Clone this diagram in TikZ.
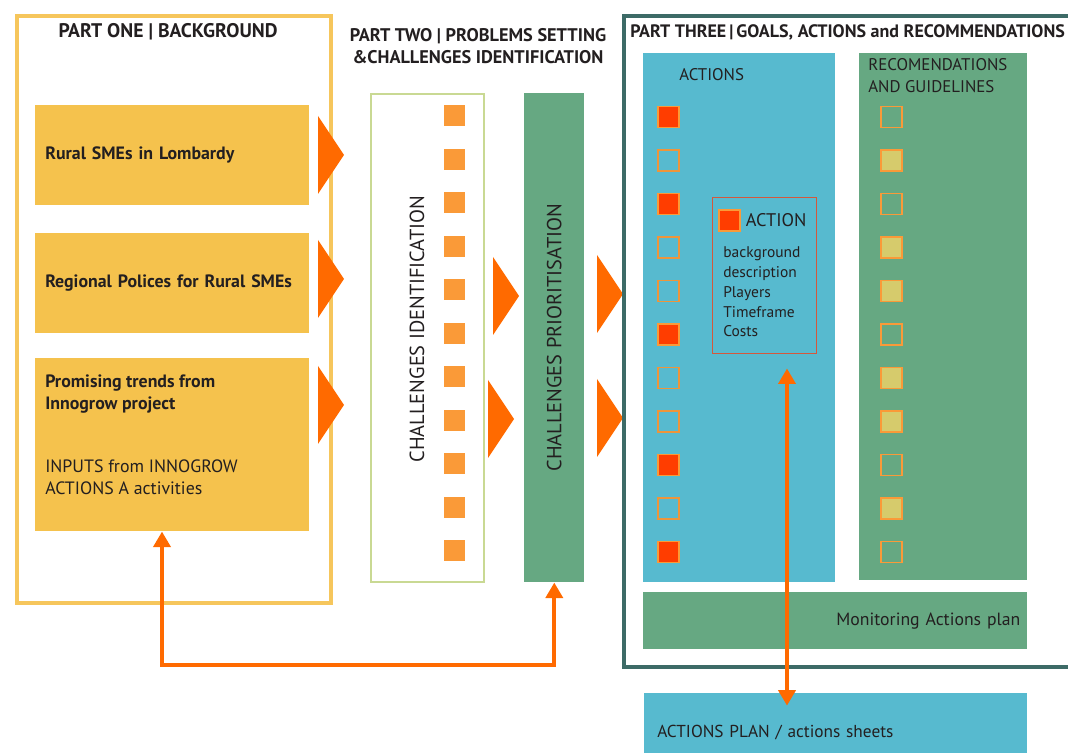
\documentclass[tikz,border=0pt]{standalone}
\usepackage{fontspec}
\setmainfont{PT Sans}
\usetikzlibrary{positioning,arrows.meta,calc}
\definecolor{gold}{HTML}{F5C24D}
\definecolor{goldline}{HTML}{F6C65C}
\definecolor{flame}{HTML}{FF6A00}
\definecolor{tangerine}{HTML}{FA9A38}
\definecolor{sage}{HTML}{66A882}
\definecolor{sky}{HTML}{57BACF}
\definecolor{deepteal}{HTML}{3D6B67}
\definecolor{lime}{HTML}{C9D993}
\definecolor{redsq}{HTML}{FF3D00}
\definecolor{khaki}{HTML}{D6CB6C}
\definecolor{rust}{HTML}{D4583C}
\definecolor{ink}{HTML}{231F20}
\newlength\px
\setlength\px{0.025cm}
\newcommand{\fsz}[1]{\fontsize{#1}{1.2\dimexpr#1pt\relax}\selectfont}

\begin{document}
\begin{tikzpicture}[
  x=0.025cm, y=-0.025cm,
  frame/.style={draw, line width=2.8pt, inner sep=0pt, anchor=north west},
  panel/.style={inner sep=0pt, anchor=north west, text=ink},
  bgbox/.style={panel, fill=gold, minimum width=274\px, align=left,
                text width=254\px, inner xsep=10\px, font=\fsz{12.7}\bfseries},
  head/.style={inner sep=0pt, text=ink, font=\fsz{13}\bfseries},
  lbl/.style={inner sep=0pt, text=ink, font=\fsz{12}},
  sq/.style={minimum size=21\px, inner sep=0pt, line width=1pt},
  chsq/.style={sq, fill=tangerine},
  aon/.style={sq, fill=redsq, draw=tangerine},
  aoff/.style={sq, draw=tangerine!80!brown},
  ron/.style={sq, fill=khaki, draw=tangerine},
  roff/.style={sq, draw=tangerine},
  link/.style={draw=flame, line width=2.8pt,
               {Triangle[length=11pt,width=12pt]}-{Triangle[length=11pt,width=12pt]}},
  bigtip/.pic={\fill[flame] (0,-39) -- (26,0) -- (0,39) -- cycle;},
]
\useasboundingbox (0,0) rectangle (1068,753);

% Part one
\node[frame, draw=goldline, minimum width=314\px, minimum height=587\px] (p1) at (15,14) {};
\node[head, font=\fsz{14}\bfseries] (p1t) at (168,32) {PART ONE | BACKGROUND};
\node[bgbox, minimum height=100\px] (b1) at (35,105) {Rural SMEs in Lombardy};
\node[bgbox, minimum height=100\px] (b2) at (35,233) {Regional Polices for Rural SMEs};
\node[bgbox, minimum height=173\px] (b3) at (35,358) {};
\node[panel, align=left, font=\fontsize{12.7}{15.6}\selectfont] (b3t) at ($(b3.north west)+(10,17)$)
  {\textbf{Promising trends from}\\\textbf{Innogrow project}\\[29pt]INPUTS from INNOGROW\\ACTIONS A activities};

\pic at (318,155) {bigtip};
\pic at (318,279) {bigtip};
\pic at (318,405) {bigtip};

% Part two
\node[head, align=center] (p2t) at (478,46) {PART TWO | PROBLEMS SETTING\\\&CHALLENGES IDENTIFICATION};
\node[panel, draw=lime, line width=1.2pt, minimum width=113\px, minimum height=488\px] (ci) at (370,93) {};
\node[lbl, rotate=90, font=\fsz{14.5}] (cit) at (417,329) {CHALLENGES IDENTIFICATION};
\foreach \i in {1,...,11}
  \node[chsq] (c\i) at (454.5,{116+(\i-1)*43.5}) {};

\pic at (493,296) {bigtip};
\pic at (488,419) {bigtip};

\node[panel, fill=sage, minimum width=60\px, minimum height=489\px] (cp) at (524,93) {};
\node[lbl, rotate=90, font=\fsz{14.5}] (cpt) at (cp.center) {CHALLENGES PRIORITISATION};

\pic at (597,294) {bigtip};
\pic at (597,418) {bigtip};

% Part three
\node[frame, draw=deepteal, minimum width=460\px, minimum height=651\px] (p3) at (622,14) {};
\node[head, anchor=west, font=\fsz{12.8}\bfseries] (p3t) at (630,32)
  {PART THREE\,|\,GOALS, ACTIONS and RECOMMENDATIONS};

\node[panel, fill=sky, minimum width=192\px, minimum height=529\px] (act) at (643,53) {};
\node[lbl, anchor=west] (actt) at (679,75) {ACTIONS};
\foreach \i/\s in {1/aon,2/aoff,3/aon,4/aoff,5/aoff,6/aon,7/aoff,8/aoff,9/aon,10/aoff,11/aon}
  \node[\s] (a\i) at (668.5,{117+(\i-1)*43.5}) {};

\node[panel, fill=sage, minimum width=168\px, minimum height=527\px] (rec) at (859,53) {};
\node[lbl, anchor=north west, align=left, font=\fontsize{12}{15.6}\selectfont] (rect) at (868,58)
  {RECOMENDATIONS\\AND GUIDELINES};
\foreach \i/\s in {1/roff,2/ron,3/roff,4/ron,5/ron,6/roff,7/ron,8/ron,9/roff,10/ron,11/roff}
  \node[\s] (r\i) at (891.5,{117+(\i-1)*43.5}) {};

% Action sheet
\node[panel, draw=rust, line width=1pt, minimum width=104\px, minimum height=156\px] (ad) at (712,197) {};
\node[aon] (adsq) at (729.5,220.5) {};
\node[lbl, anchor=west, font=\fsz{13}] (adt) at ($(adsq.east)+(5,0)$) {ACTION};
\node[panel, align=left, font=\fontsize{11}{14.2}\selectfont, anchor=north west] (adl) at (723,246)
  {background\\description\\Players\\Timeframe\\Costs};

\node[panel, fill=sage, minimum width=384\px, minimum height=57\px, align=right,
      text width=370\px, inner xsep=7\px, font=\fsz{12.6}] (mon) at (643,592) {Monitoring Actions plan};

\node[panel, fill=sky, minimum width=383\px, minimum height=78\px, align=left,
      text width=357\px, inner xsep=13\px, font=\fsz{12.3}] (plan) at (644,693) {ACTIONS PLAN / actions sheets};

% Arrows
\coordinate (loopx) at (162,665);
\coordinate (vx) at (787,0);
\draw[link] (b3.south -| loopx) -- (loopx) -- (loopx -| cp.south) -- (cp.south);
\draw[link, shorten <=10pt, shorten >=-9pt] (ad.south -| vx) -- (plan.north -| vx);
\end{tikzpicture}
\end{document}
